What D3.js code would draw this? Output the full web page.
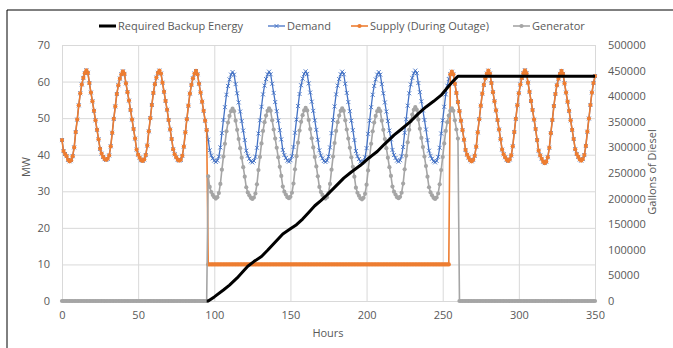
<!DOCTYPE html>
<html>
<head>
<meta charset="utf-8">
<script src="https://cdn.jsdelivr.net/npm/d3@7"></script>
<style>
  body { margin: 0; background: #fff; }
  svg { display: block; }
  text { font-family: "Open Sans", "Liberation Sans", sans-serif; }
</style>
</head>
<body>
<div id="chart"></div>
<script>
// hourly demand (MW), one row per day
const demandByDay = [
  [44.0,41.0,40.2,39.6,38.6,38.2,38.5,39.6,42.0,46.2,49.6,53.5,56.8,59.2,61.0,62.3,63.1,62.4,59.6,57.0,54.6,52.0,49.4,46.8],
  [44.2,41.6,40.3,39.4,38.8,38.6,38.9,39.8,42.3,46.0,49.8,53.2,56.6,59.0,60.8,62.0,62.8,62.1,59.5,57.1,54.8,52.2,49.6,47.0],
  [44.4,41.4,40.0,39.2,38.5,38.3,38.7,39.9,42.5,46.4,50.0,53.6,56.9,59.3,61.1,62.4,63.0,62.2,59.7,57.2,54.7,52.3,49.5,46.9],
  [44.3,41.5,40.1,39.3,38.6,38.4,38.6,39.7,42.2,46.1,49.7,53.4,56.7,59.1,60.9,62.2,62.9,62.0,59.4,57.0,54.5,52.0,49.3,46.7],
  [44.1,41.2,39.8,39.0,38.4,38.0,38.4,39.5,42.0,45.9,49.5,53.0,56.4,58.8,60.6,61.9,62.6,61.9,59.3,56.8,54.3,51.8,49.2,46.6],
  [44.0,41.1,39.7,38.9,38.2,37.9,38.3,39.4,41.9,45.8,49.4,53.1,56.5,58.9,60.7,62.0,62.7,62.0,59.4,56.9,54.4,51.9,49.3,46.7],
  [44.2,41.3,39.9,39.1,38.4,38.1,38.5,39.6,42.1,46.0,49.6,53.3,56.6,59.0,60.8,62.1,62.8,62.1,59.5,57.0,54.5,52.0,49.4,46.8],
  [44.1,41.2,39.8,39.0,38.3,38.0,38.4,39.5,42.0,45.9,49.5,53.2,56.5,58.9,60.7,62.0,62.7,62.0,59.4,56.9,54.4,51.9,49.3,46.7],
  [44.0,41.0,39.6,38.8,38.1,37.8,38.2,39.3,41.8,45.7,49.3,53.0,56.4,58.8,60.6,61.9,62.6,61.9,59.3,56.8,54.3,51.8,49.2,46.6],
  [44.2,41.3,39.9,39.1,38.4,38.1,38.5,39.6,42.1,46.0,49.7,53.4,56.8,59.2,61.0,62.3,63.0,62.3,59.6,57.1,54.6,52.1,49.5,46.9],
  [44.0,41.1,39.7,38.9,38.2,37.9,38.3,39.4,41.9,45.8,49.4,53.1,56.5,58.9,60.7,62.0,62.7,62.0,59.4,56.9,54.4,51.9,49.3,46.7],
  [44.1,41.3,40.0,39.2,38.5,38.2,38.6,39.7,42.2,46.1,49.7,53.4,56.7,59.1,60.9,62.2,63.0,62.2,59.6,57.1,54.6,52.1,49.5,46.9],
  [44.2,41.4,40.1,39.3,38.6,38.3,38.7,39.8,42.3,46.2,49.8,53.5,56.8,59.2,61.0,62.3,63.1,62.3,59.7,57.2,54.7,52.2,49.6,47.0],
  [44.0,41.1,39.8,38.9,38.1,37.7,38.1,39.3,41.9,45.9,49.5,53.3,56.6,59.0,60.8,62.1,62.9,62.1,59.5,57.0,54.5,52.0,49.4,46.8],
  [44.3,41.5,40.2,39.4,38.7,38.4,38.8,39.9,42.4,46.3,49.9,53.6,57.0,59.6,61.5]
];

// outage window (hours)
const outageStart = 96;       // supply drops to the outage level
const supplyRestored = 255;   // supply follows demand again
const generatorOff = 261;     // generator back to zero
const outageSupply = 10;      // MW available during the outage

// required backup energy (gallons)
const backupHours   = [95, 96, 100, 106, 110, 115, 119, 122, 126, 131, 135, 139, 145, 150, 154, 158, 162, 166, 170, 174, 179, 185, 190, 196, 201, 207, 212, 218, 223, 229, 234, 239, 244, 249, 254, 257, 260, 350];
const backupGallons = [0, 0, 8000, 21500, 31000, 45000, 58000, 68000, 77000, 87000, 99000, 112000, 131000, 141000, 149000, 160000, 173000, 186000, 196000, 207000, 222000, 240000, 252000, 265000, 278000, 292000, 307000, 324000, 336000, 351000, 366000, 379000, 390000, 402000, 420000, 430000, 439000, 439000];

const xTicks = [0, 50, 100, 150, 200, 250, 300, 350];
const yTicks = [0, 10, 20, 30, 40, 50, 60, 70];
const y2Ticks = [0, 50000, 100000, 150000, 200000, 250000, 300000, 350000, 400000, 450000, 500000];

const demand = demandByDay.flat();
const hours = demand.map((d, i) => i);
const supply = hours.map(h => (h >= outageStart && h < supplyRestored) ? outageSupply : demand[h]);
const generator = hours.map(h => (h >= outageStart && h < generatorOff) ? demand[h] - outageSupply : 0);
const backup = backupHours.map((h, i) => ({ h: h, v: backupGallons[i] }));

const W = 673, H = 348;
const BLUE = "#4472C4", ORANGE = "#ED7D31", GRAY = "#A5A5A5", LABEL = "#595959", GRID = "#D9D9D9";

const svg = d3.select("#chart").append("svg").attr("width", W).attr("height", H);

// frame (the picture is cropped on the right and bottom)
svg.append("line").attr("x1", 7).attr("x2", W).attr("y1", 10).attr("y2", 10).attr("stroke", "#000");
svg.append("line").attr("x1", 7).attr("x2", 7).attr("y1", 10).attr("y2", H).attr("stroke", "#000");

const x = d3.scaleLinear().domain([0, 350]).range([62, 595]);
const y = d3.scaleLinear().domain([0, 70]).range([301, 45]);
const y2 = d3.scaleLinear().domain([0, 500000]).range([301, 45]);

// gridlines
svg.append("g")
  .attr("transform", "translate(62,0)")
  .call(d3.axisLeft(y).tickValues(yTicks).tickSize(-(595 - 62)).tickFormat(""))
  .call(g => g.select(".domain").remove())
  .call(g => g.selectAll("line").attr("stroke", GRID));
svg.append("g")
  .attr("transform", "translate(0,301)")
  .call(d3.axisBottom(x).tickValues(xTicks).tickSize(-(301 - 45)).tickFormat(""))
  .call(g => g.select(".domain").remove())
  .call(g => g.selectAll("line").attr("stroke", GRID));

// axis labels
const styleAxis = g => {
  g.select(".domain").remove();
  g.selectAll("line").remove();
  g.selectAll("text").attr("fill", LABEL).style("font-size", "11px").style("font-family", "'Open Sans', sans-serif");
};
svg.append("g").attr("transform", "translate(50,0)")
  .call(d3.axisLeft(y).tickValues(yTicks).tickSize(0).tickPadding(0))
  .call(styleAxis);
svg.append("g").attr("transform", "translate(608,0)")
  .call(d3.axisRight(y2).tickValues(y2Ticks).tickSize(0).tickPadding(0).tickFormat(d3.format("d")))
  .call(styleAxis);
svg.append("g").attr("transform", "translate(0,311)")
  .call(d3.axisBottom(x).tickValues(xTicks).tickSize(0).tickPadding(0))
  .call(styleAxis);

svg.append("text").attr("x", 328).attr("y", 337).attr("text-anchor", "middle")
  .attr("fill", LABEL).style("font-size", "11px").text("Hours");
svg.append("text").attr("transform", "translate(30,167)rotate(-90)").attr("text-anchor", "middle")
  .attr("fill", LABEL).style("font-size", "11px").text("MW");
svg.append("text").attr("transform", "translate(656,172)rotate(-90)").attr("text-anchor", "middle")
  .attr("fill", LABEL).style("font-size", "11px").text("Gallons of Diesel");

// series
const line = d3.line().x((d, i) => x(hours[i])).y(d => y(d));

function drawSeries(values, color, width, marker) {
  const g = svg.append("g");
  g.append("path").datum(values)
    .attr("d", line).attr("fill", "none").attr("stroke", color).attr("stroke-width", width)
    .attr("stroke-linejoin", "round");
  const m = g.selectAll(".m").data(values).join("g")
    .attr("transform", (d, i) => `translate(${x(hours[i])},${y(d)})`);
  if (marker === "x") {
    m.append("path").attr("d", "M-2,-2L2,2M-2,2L2,-2").attr("stroke", color).attr("stroke-width", 0.9).attr("fill", "none");
  } else {
    m.append("circle").attr("r", 2.1).attr("fill", color);
  }
}

drawSeries(demand, BLUE, 1.3, "x");
drawSeries(supply, ORANGE, 1.6, "dot");
drawSeries(generator, GRAY, 1.6, "dot");

svg.append("path").datum(backup)
  .attr("d", d3.line().x(d => x(d.h)).y(d => y2(d.v)))
  .attr("fill", "none").attr("stroke", "#000").attr("stroke-width", 3).attr("stroke-linejoin", "round");

// legend
const legend = [
  { name: "Required Backup Energy", color: "#000", x: 99, w: 3, marker: null },
  { name: "Demand", color: BLUE, x: 268, w: 1.3, marker: "x" },
  { name: "Supply (During Outage)", color: ORANGE, x: 351, w: 1.6, marker: "dot" },
  { name: "Generator", color: GRAY, x: 513, w: 1.6, marker: "dot" }
];
const lg = svg.selectAll(".legend").data(legend).join("g")
  .attr("transform", d => `translate(${d.x},26)`);
lg.append("line").attr("x1", 0).attr("x2", 17).attr("stroke", d => d.color).attr("stroke-width", d => d.w);
lg.filter(d => d.marker === "x").append("path").attr("d", "M6.5,-2L10.5,2M6.5,2L10.5,-2")
  .attr("stroke", d => d.color).attr("stroke-width", 0.9);
lg.filter(d => d.marker === "dot").append("circle").attr("cx", 8.5).attr("r", 2.1).attr("fill", d => d.color);
lg.append("text").attr("x", 19).attr("dy", "0.35em").attr("fill", LABEL).style("font-size", "11px").text(d => d.name);
</script>
</body>
</html>
